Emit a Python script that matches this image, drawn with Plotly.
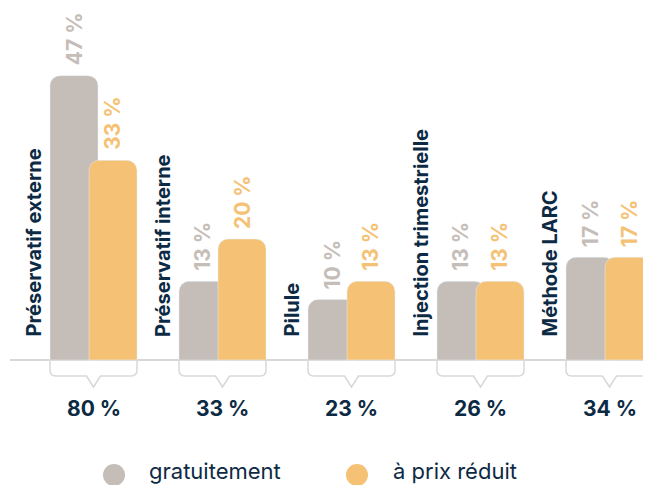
import plotly.graph_objects as go

# ---------------------- données ----------------------
categories = ["Préservatif externe", "Préservatif interne", "Pilule",
              "Injection trimestrielle", "Méthode LARC"]
gratuitement = [47, 13, 10, 13, 17]
prix_reduit = [33, 20, 13, 13, 17]
totaux = [80, 33, 23, 26, 34]
noms_series = ["gratuitement", "à prix réduit"]

GREY = "#c5bdb7"
ORANGE = "#f5c275"
NAVY = "#0d2a44"
LINE = "#dbd7d4"
FONT = "Inter"

# ---------------------- géométrie (pixels de la page) ----------------------
OFF = 8                 # marge par défaut du <body>
W, H = 651 - OFF, 485 - OFF
PLOT_L, PLOT_B = 10, 400   # bord gauche / bas de la zone de tracé (page)
GROUP_PX = 129          # distance entre centres de groupes
FIRST_C = 93.5          # centre du premier groupe
BASE = 360              # ligne de base
PX_PER_PCT = 6.05
PLOT_H = PLOT_B - OFF


def dx(px):
    return px / GROUP_PX


def dy(px):
    return px / PX_PER_PCT


def paper_x(px):
    return (px - PLOT_L) / (651 - PLOT_L)


def paper_y(py):
    return (PLOT_B - py) / PLOT_H


xs = list(range(len(categories)))
bar_w = dx(48)
off_grey = dx(50 - FIRST_C)
off_orange = dx(89 - FIRST_C)

fig = go.Figure()
fig.add_trace(go.Bar(x=xs, y=gratuitement, name=noms_series[0], width=bar_w,
                     offset=off_grey, marker=dict(color=GREY, cornerradius=10),
                     hoverinfo="y"))
fig.add_trace(go.Bar(x=xs, y=prix_reduit, name=noms_series[1], width=bar_w,
                     offset=off_orange, marker=dict(color=ORANGE, cornerradius=10),
                     hoverinfo="y"))

annotations = []
shapes = []
for i, cat in enumerate(categories):
    # valeurs au-dessus des barres
    for vals, off, col in [(gratuitement, off_grey, GREY), (prix_reduit, off_orange, ORANGE)]:
        annotations.append(dict(x=i + off + bar_w / 2, y=vals[i], text=f"{vals[i]} %",
                                textangle=-90, xanchor="center", yanchor="bottom",
                                yshift=8, showarrow=False,
                                font=dict(family=FONT, size=21, color=col, weight="bold")))
    # nom de la méthode
    annotations.append(dict(x=i + dx(33.5 - FIRST_C), y=dy(21), text=cat, textangle=-90,
                            xanchor="center", yanchor="bottom", showarrow=False,
                            font=dict(family=FONT, size=20, color=NAVY, weight="bold")))
    # total
    annotations.append(dict(x=i, y=paper_y(408), yref="paper", text=f"{totaux[i]} %",
                            xanchor="center", yanchor="middle", showarrow=False,
                            font=dict(family=FONT, size=21, color=NAVY, weight="bold")))
    # accolade sous le groupe
    left, right = i + dx(50 - FIRST_C), i + dx(137 - FIRST_C)
    cx = i + dx(93.5 - FIRST_C)
    yb = -dy(16)
    rx, ry = dx(6), dy(6)
    hw, depth = dx(7), dy(11)
    path = (f"M {left},0 L {left},{yb + ry} Q {left},{yb} {left + rx},{yb} "
            f"L {cx - hw},{yb} L {cx},{yb - depth} L {cx + hw},{yb} "
            f"L {right - rx},{yb} Q {right},{yb} {right},{yb + ry} L {right},0")
    shapes.append(dict(type="path", path=path, xref="x", yref="y",
                       line=dict(color=LINE, width=1.5), layer="below"))

# légende
for name, col, cpx, tpx in [(noms_series[0], GREY, 114, 148), (noms_series[1], ORANGE, 357, 392)]:
    shapes.append(dict(type="circle", xref="paper", yref="paper",
                       xsizemode="pixel", ysizemode="pixel",
                       xanchor=paper_x(cpx), yanchor=paper_y(475),
                       x0=-11, x1=11, y0=-11, y1=11,
                       fillcolor=col, line=dict(width=0)))
    annotations.append(dict(x=paper_x(tpx), y=paper_y(471), xref="paper", yref="paper",
                            text=name, xanchor="left", yanchor="middle", showarrow=False,
                            borderpad=0,
                            font=dict(family=FONT, size=22, color=NAVY)))

fig.update_layout(
    width=W, height=H,
    margin=dict(l=PLOT_L - OFF, r=0, t=0, b=H - PLOT_H),
    barmode="overlay",
    plot_bgcolor="white", paper_bgcolor="white",
    showlegend=False,
    annotations=annotations,
    shapes=shapes,
    xaxis=dict(range=[dx(PLOT_L - FIRST_C), dx(651 - FIRST_C)], visible=False, fixedrange=True),
    yaxis=dict(range=[-dy(PLOT_B - BASE), dy(BASE - OFF)], showgrid=False, showticklabels=False,
               zeroline=True, zerolinecolor=LINE, zerolinewidth=1.5, fixedrange=True),
)

fig.write_html("out.html")
